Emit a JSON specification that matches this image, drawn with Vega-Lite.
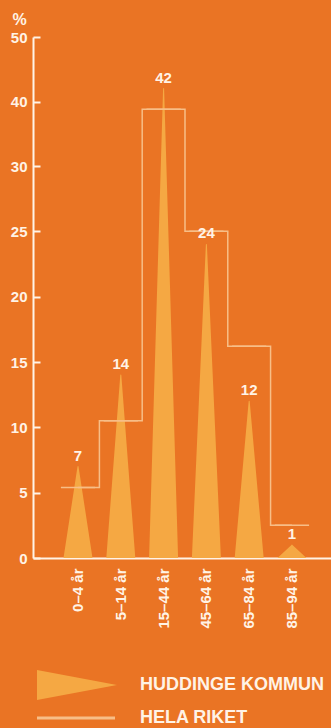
{
  "$schema": "https://vega.github.io/schema/vega-lite/v6.json",
  "width": 298,
  "height": 521,
  "autosize": {"type": "none"},
  "padding": {"left": 33, "top": 37, "right": 0, "bottom": 170},
  "background": "#EA7424",
  "config": {
    "view": {"stroke": null},
    "font": "Liberation Sans",
    "axis": {
      "domainColor": "#FFF3E6",
      "domainWidth": 2,
      "tickColor": "#FFF3E6",
      "tickWidth": 2,
      "labelColor": "#FFF3E6",
      "labelFont": "Liberation Sans",
      "labelFontWeight": "bold",
      "labelFontSize": 15,
      "grid": false
    }
  },
  "data": {
    "values": [
      {"ålder": "0–4 år", "kommun": 7, "riket": 5.4},
      {"ålder": "5–14 år", "kommun": 14, "riket": 10.5},
      {"ålder": "15–44 år", "kommun": 42, "riket": 38.8},
      {"ålder": "45–64 år", "kommun": 24, "riket": 25},
      {"ålder": "65–84 år", "kommun": 12, "riket": 16.2},
      {"ålder": "85–94 år", "kommun": 1, "riket": 2.5}
    ]
  },
  "layer": [
    {
      "transform": [
        {"fold": ["kommun"], "as": ["del", "värde"]},
        {"impute": "värde", "key": "del", "keyvals": ["bas", "kommun"], "groupby": ["ålder"], "value": 0}
      ],
      "mark": {"type": "trail", "opacity": 1, "clip": true},
      "encoding": {
        "x": {
          "field": "ålder",
          "type": "nominal",
          "sort": null,
          "bandPosition": 0.5,
          "scale": {"type": "band", "paddingInner": 0.2, "paddingOuter": 0.582, "align": 0.56},
          "axis": {
            "title": null,
            "ticks": false,
            "labelAngle": -90,
            "labelAlign": "right",
            "labelBaseline": "middle",
            "labelPadding": 10
          }
        },
        "y": {
          "field": "värde",
          "type": "quantitative",
          "scale": {"domain": [0, 30, 50], "range": [521, 129, 0], "nice": false, "zero": false},
          "axis": {
            "values": [0, 5, 10, 15, 20, 25, 30, 40, 50],
            "tickSize": -7,
            "labelPadding": 13,
            "title": "%",
            "titleAngle": 0,
            "titleAlign": "center",
            "titleBaseline": "alphabetic",
            "titleX": -14,
            "titleY": -13,
            "titleColor": "#FFF3E6",
            "titleFont": "Liberation Sans",
            "titleFontSize": 16,
            "titleFontWeight": "bold"
          }
        },
        "detail": {"field": "ålder"},
        "order": {"field": "del"},
        "size": {"condition": {"test": "datum['del'] === 'bas'", "value": 29}, "value": 0},
        "color": {
          "datum": "HUDDINGE KOMMUN",
          "type": "nominal",
          "scale": {"domain": ["HUDDINGE KOMMUN", "HELA RIKET"], "range": ["#F5A843", "#F7BE87"]},
          "legend": {
            "orient": "none",
            "legendX": 4,
            "legendY": 633,
            "title": null,
            "padding": 0,
            "symbolSize": 900,
            "symbolStrokeWidth": 0,
            "symbolOpacity": 1,
            "labelOffset": 73,
            "labelFont": "Liberation Sans",
            "labelFontSize": 18,
            "labelFontWeight": "bold",
            "labelColor": "#FFF3E6",
            "labelLimit": 300,
            "rowPadding": 3,
            "encode": {
              "symbols": {
                "update": {
                  "shape": {"signal": "datum.value === 'HUDDINGE KOMMUN' ? 'M -1 -1 L 4.33 0 L -1 1 Z' : 'M -1 -0.1 L 4.2 -0.1 L 4.2 0.1 L -1 0.1 Z'"},
                  "fill": {"signal": "datum.value === 'HUDDINGE KOMMUN' ? '#F5A843' : '#F7BE87'"},
                  "stroke": {"value": "transparent"},
                  "strokeWidth": {"value": 0},
                  "opacity": {"value": 1}
                }
              }
            }
          }
        }
      }
    },
    {
      "mark": {"type": "rule", "strokeWidth": 1.5, "color": "#F7BE87"},
      "encoding": {
        "x": {"field": "ålder", "type": "nominal", "sort": null, "bandPosition": 0},
        "x2": {"field": "ålder", "bandPosition": 1},
        "y": {"field": "riket", "type": "quantitative"}
      }
    },
    {
      "mark": {"type": "line", "interpolate": "step", "strokeWidth": 1.5},
      "encoding": {
        "x": {"field": "ålder", "type": "nominal", "sort": null, "bandPosition": 0.5},
        "y": {"field": "riket", "type": "quantitative"},
        "color": {"datum": "HELA RIKET", "type": "nominal"}
      }
    },
    {
      "mark": {"type": "text", "baseline": "bottom", "dy": -3, "font": "Liberation Sans", "fontSize": 15, "fontWeight": "bold", "color": "#FFF3E6"},
      "encoding": {
        "x": {"field": "ålder", "type": "nominal", "sort": null, "bandPosition": 0.5},
        "y": {"field": "kommun", "type": "quantitative"},
        "text": {"field": "kommun", "type": "quantitative"}
      }
    }
  ]
}
